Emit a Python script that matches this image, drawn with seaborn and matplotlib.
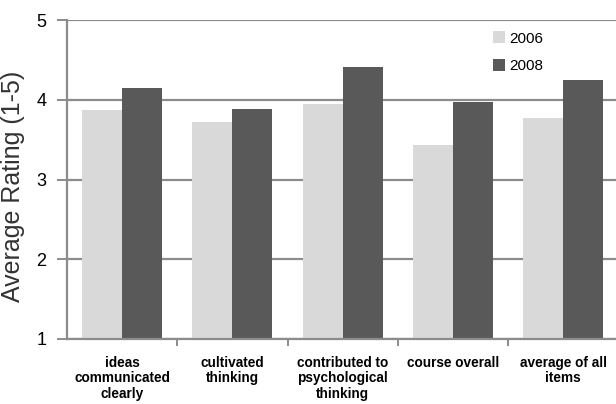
import matplotlib
matplotlib.use("Agg")
import matplotlib.pyplot as plt
import seaborn as sns
import pandas as pd
import numpy as np

categories = [
    "ideas\ncommunicated\nclearly",
    "cultivated\nthinking",
    "contributed to\npsychological\nthinking",
    "course overall",
    "average of all\nitems",
]
ratings_2006 = [3.87, 3.72, 3.95, 3.44, 3.77]
ratings_2008 = [4.15, 3.88, 4.41, 3.97, 4.25]
years = ["2006", "2008"]
y_ticks = [1, 2, 3, 4, 5]

df = pd.DataFrame({
    "item": categories * 2,
    "year": [years[0]] * len(categories) + [years[1]] * len(categories),
    "rating": ratings_2006 + ratings_2008,
})

sns.set_theme(style="white")
plt.rcParams["font.family"] = ["Liberation Sans", "DejaVu Sans"]

fig = plt.figure(figsize=(6.16, 4.04), dpi=100)
ax = fig.add_axes([0.1088, 0.161, 0.895, 0.789])

grid_col = "#8c8c8c"
ax.set_ylim(1, 5)
ax.set_yticks(y_ticks)
ax.yaxis.grid(True, color=grid_col, linewidth=1.6)
ax.set_axisbelow(True)

sns.barplot(data=df, x="item", y="rating", hue="year",
            palette=["#d9d9d9", "#595959"], width=0.727,
            saturation=1, gap=0, ax=ax, legend=True, errorbar=None,
            linewidth=0)

ax.set_xlim(-0.5, len(categories) - 0.5)
ax.set_xlabel("")
ax.set_ylabel("Average Rating (1-5)", fontsize=18, color="#333333")
ax.yaxis.set_label_coords(-0.077, 0.48)

for s in ["top", "right"]:
    ax.spines[s].set_visible(False)
for s in ["left", "bottom"]:
    ax.spines[s].set_color(grid_col)
    ax.spines[s].set_linewidth(1.6)

ax.tick_params(axis="y", which="major", left=True, length=7, width=1.4,
               color=grid_col, labelsize=13, pad=8, labelcolor="black")
ax.set_xticks(range(len(categories)))
ax.set_xticklabels(categories, fontsize=9.8, fontweight="bold",
                   linespacing=1.15)
ax.tick_params(axis="x", which="major", bottom=False, pad=6,
               labelcolor="black")
ax.set_xticks(np.arange(0.5, len(categories) - 0.5, 1), minor=True)
ax.tick_params(axis="x", which="minor", bottom=True, length=5, width=1.4,
               color=grid_col)

leg = ax.legend(loc="upper left", bbox_to_anchor=(0.772, 0.965), frameon=False,
                fontsize=11, handlelength=0.8, handleheight=0.8,
                handletextpad=0.3, labelspacing=0.9, borderpad=0,
                borderaxespad=0, labelcolor="black")

fig.savefig("out.png", dpi=100)
